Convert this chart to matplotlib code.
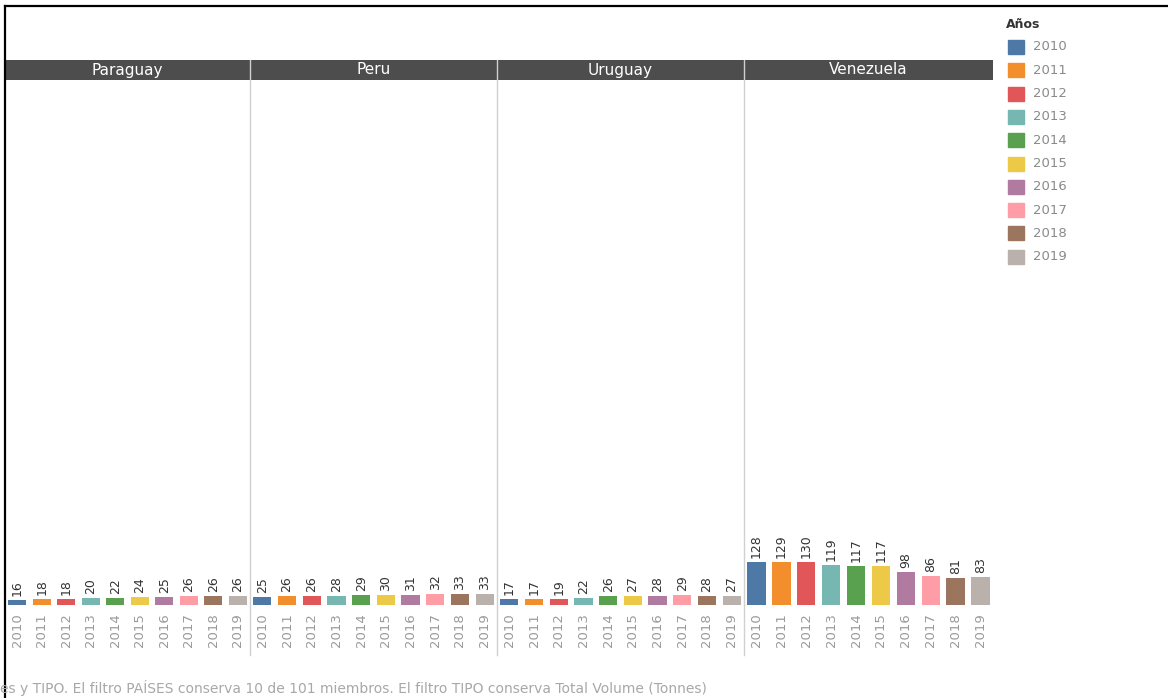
import matplotlib.pyplot as plt
from matplotlib.patches import Rectangle
from matplotlib.lines import Line2D

# volume per country and year (Total Volume, Tonnes)
years = ['2010', '2011', '2012', '2013', '2014', '2015', '2016', '2017', '2018', '2019']
countries = ['Paraguay', 'Peru', 'Uruguay', 'Venezuela']
paraguay = [16, 18, 18, 20, 22, 24, 25, 26, 26, 26]
peru = [25, 26, 26, 28, 29, 30, 31, 32, 33, 33]
uruguay = [17, 17, 19, 22, 26, 27, 28, 29, 28, 27]
venezuela = [128, 129, 130, 119, 117, 117, 98, 86, 81, 83]
colors = ['#4e79a7', '#f28e2b', '#e15759', '#76b7b2', '#59a14f',
          '#edc948', '#b07aa1', '#ff9da7', '#9c755f', '#bab0ac']
footnote = 'es y TIPO. El filtro PAÍSES conserva 10 de 101 miembros. El filtro TIPO conserva Total Volume (Tonnes)'

narrow = ['Liberation Sans Narrow', 'DejaVu Sans']

W, H = 1168, 698
fig = plt.figure(figsize=(W / 100, H / 100), dpi=100)
fig.patch.set_facecolor('white')

def fx(px):
    return px / W

def fy(py):
    return 1 - py / H

panel_edges = [5, 250, 497, 744, 993]
base_y, top_y = 605, 80
head_top = 60
ymax = 1580
values = [paraguay, peru, uruguay, venezuela]

for i, (name, vals) in enumerate(zip(countries, values)):
    x0, x1 = panel_edges[i], panel_edges[i + 1]
    ax = fig.add_axes([fx(x0), fy(base_y), fx(x1 - x0), (base_y - top_y) / H])
    ax.set_xlim(-0.5, 9.5)
    ax.set_ylim(0, ymax)
    pos = range(len(years))
    ax.bar(pos, vals, width=0.74, color=colors)
    for p, v in zip(pos, vals):
        ax.annotate(str(v), (p, v), xytext=(0, 3), textcoords='offset points',
                    rotation=90, ha='center', va='bottom', fontsize=9,
                    family=narrow, color='#333333')
    ax.set_xticks(list(pos))
    ax.set_xticklabels(years, rotation=90, fontsize=9.5, family=narrow, color='#9a9a9a')
    ax.tick_params(axis='x', length=0, pad=6)
    ax.set_yticks([])
    for s in ax.spines.values():
        s.set_visible(False)
    ax.patch.set_alpha(0)

    # header cell with country name
    hx = fig.add_axes([fx(x0), fy(top_y), fx(x1 - x0), (top_y - head_top) / H])
    hx.set_facecolor('#4d4d4d')
    hx.set_xticks([])
    hx.set_yticks([])
    for s in hx.spines.values():
        s.set_visible(False)
    hx.text(0.5, 0.5, name, color='white', fontsize=11, family=narrow,
            ha='center', va='center', transform=hx.transAxes)

# panel dividers
for xp in panel_edges[1:-1]:
    fig.add_artist(Line2D([fx(xp), fx(xp)], [fy(head_top), fy(655)],
                          color='#d0d0d0', lw=1))

# outer frame lines
fig.add_artist(Line2D([fx(5), fx(5)], [fy(6), 0], color='black', lw=1.6))
fig.add_artist(Line2D([fx(5), 1], [fy(6), fy(6)], color='black', lw=1.6))

# legend
fig.text(fx(1006), fy(25), 'Años', fontsize=9, fontweight='bold', family=narrow,
         color='#333333', va='center', ha='left')
for k, (yr, c) in enumerate(zip(years, colors)):
    yc = 47 + k * 23.3
    fig.add_artist(Rectangle((fx(1008), fy(yc + 7)), fx(16), 14 / H, color=c))
    fig.text(fx(1033), fy(yc), yr, fontsize=9.5, family=narrow, color='#8a8a8a',
             va='center', ha='left')

fig.text(fx(0), fy(688), footnote, fontsize=10, family=narrow, color='#a8a8a8',
         va='center', ha='left')

fig.savefig('out.png', dpi=100)
